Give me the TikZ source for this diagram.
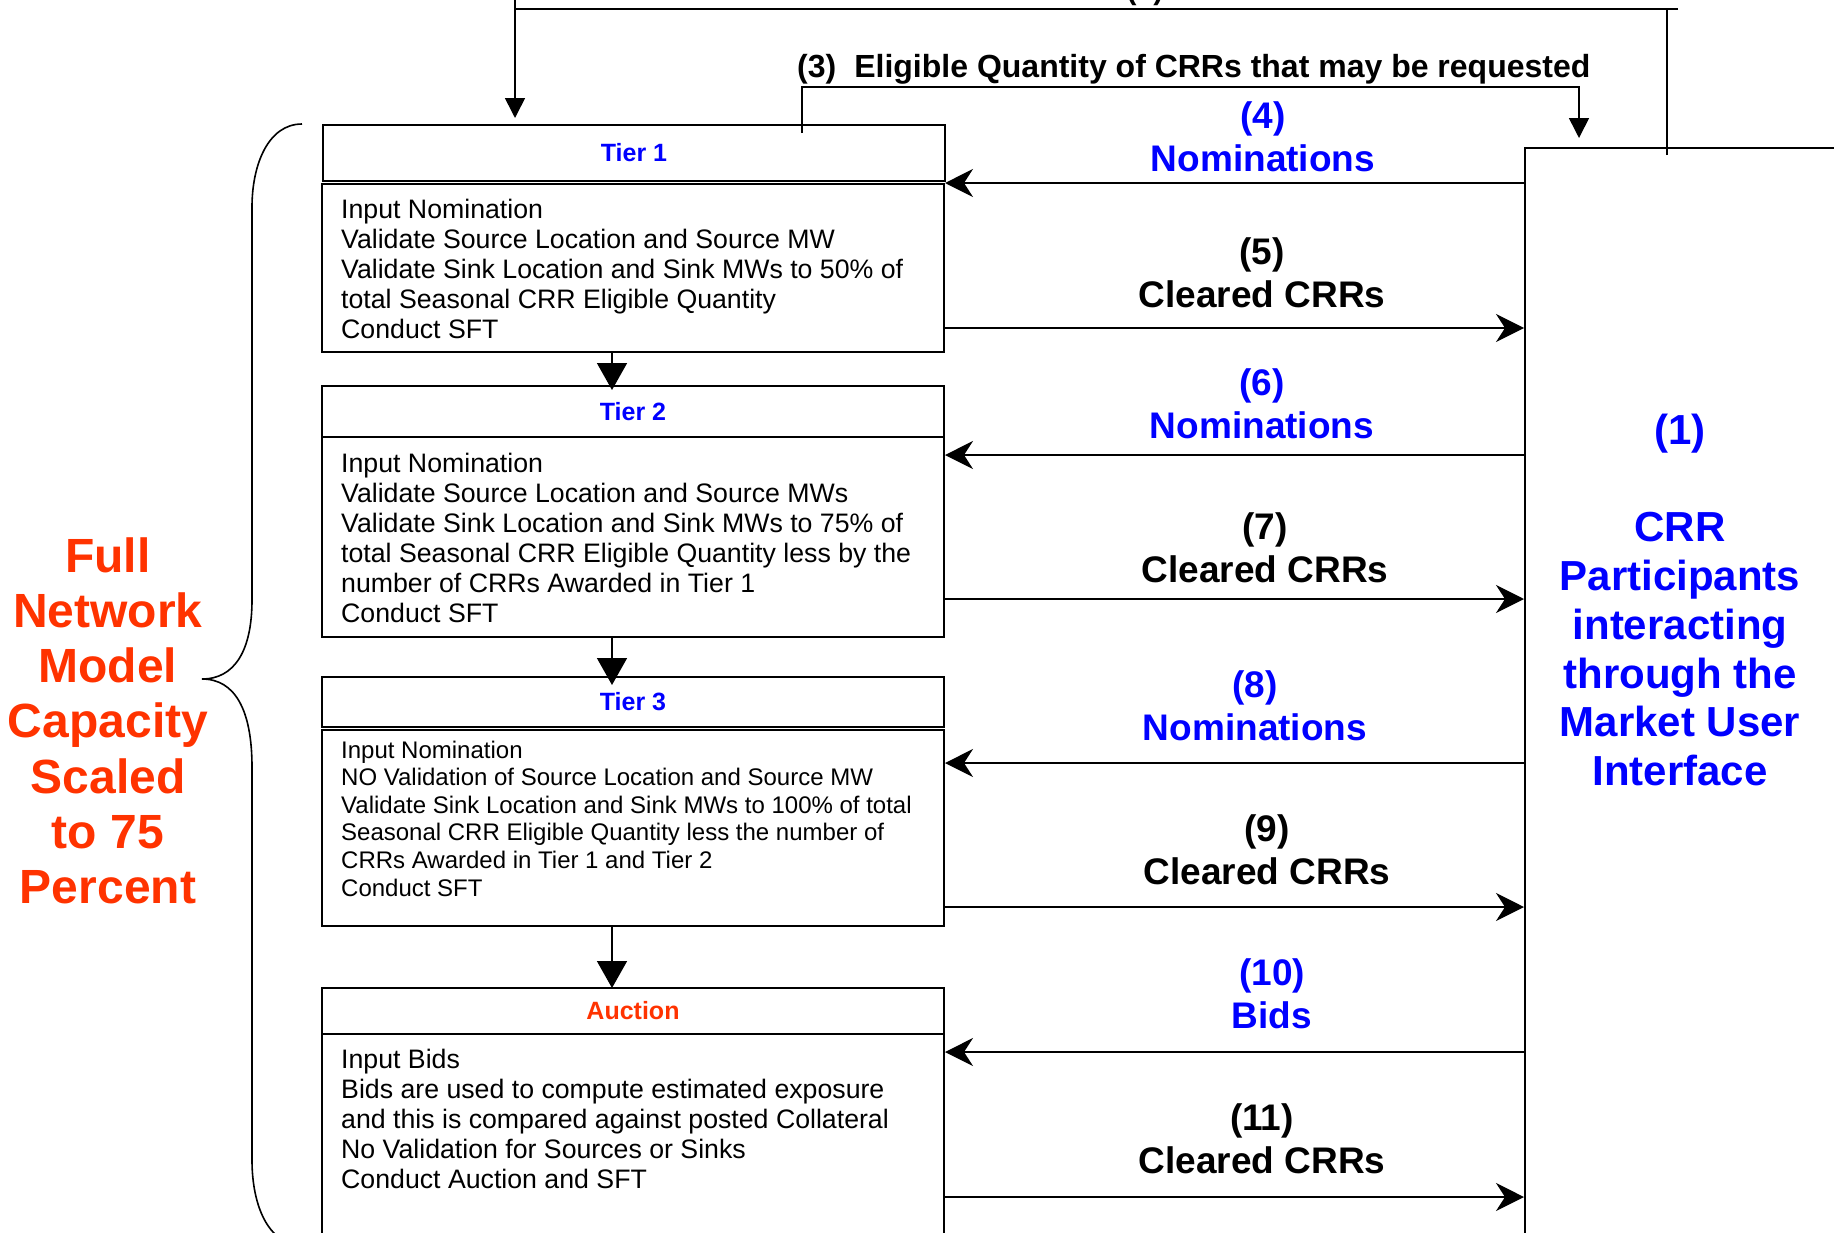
\documentclass[tikz,border=0pt]{standalone}
\usepackage{fontspec}
\setmainfont{Liberation Sans}
\usetikzlibrary{arrows.meta}
\definecolor{cblue}{RGB}{0,0,255}
\definecolor{corange}{RGB}{255,51,0}
\newcommand\leftlines[1]{\begin{tabular}[t]{@{}l@{}}#1\end{tabular}}
\newcommand\centerlines[1]{\begin{tabular}[t]{@{}c@{}}#1\end{tabular}}
\begin{document}
\begin{tikzpicture}[x=1pt,y=-1pt,
  box/.style={draw, line width=2pt, inner sep=0pt, anchor=north west, minimum width=622pt},
  hdrtext/.style={font=\fontsize{25}{30}\selectfont\bfseries},
  bodytext/.style={inner sep=0pt, anchor=base west, font=\fontsize{26.7}{30}\selectfont},
  smalltext/.style={inner sep=0pt, anchor=base west, font=\fontsize{24}{27.6}\selectfont},
  lbl/.style={inner sep=0pt, anchor=base, font=\fontsize{37}{43.5}\selectfont\bfseries},
  conn/.style={line width=1.6pt},
  larr/.style={conn, -{Stealth[length=28pt,width=28pt,inset=9pt]}},
  darr/.style={conn, -{Triangle[length=27pt,width=30pt]}},
  tarr/.style={conn, -{Triangle[length=20pt,width=20pt]}},
]
\useasboundingbox[fill=white] (0,0) rectangle (1834,1232);

% boxes
\node[box, minimum height=56pt, hdrtext, text=cblue] (t1h) at (322,124) {Tier 1};
\node[box, minimum height=168pt] (t1b) at (321,183) {};
\node[box, minimum height=51pt, hdrtext, text=cblue] (t2h) at (321,385) {Tier 2};
\node[box, minimum height=200pt] (t2b) at (321,436) {};
\node[box, minimum height=50pt, hdrtext, text=cblue] (t3h) at (321,676) {Tier 3};
\node[box, minimum height=196pt] (t3b) at (321,729) {};
\node[box, minimum height=46pt, hdrtext, text=corange] (auh) at (321,987) {Auction};
\node[box, minimum height=240pt] (aub) at (321,1033) {};
\node[draw, line width=2pt, inner sep=0pt, anchor=north west, minimum width=400pt, minimum height=1150pt] (mui) at (1524,147) {};

% box texts
\begin{scope}
\clip (321,183) rectangle (943,343);
\node[bodytext] (t1txt) at (341,218) {\leftlines{Input Nomination\\Validate Source Location and Source MW\\Validate Sink Location and Sink MWs to 50\% of\\total Seasonal CRR Eligible Quantity\\Conduct SFT}};
\end{scope}
\node[bodytext] (t2txt) at (341,472) {\leftlines{Input Nomination\\Validate Source Location and Source MWs\\Validate Sink Location and Sink MWs to 75\% of\\total Seasonal CRR Eligible Quantity less by the\\number of CRRs Awarded in Tier 1\\Conduct SFT}};
\node[smalltext] (t3txt) at (341,758) {\leftlines{Input Nomination\\NO Validation of Source Location and Source MW\\Validate Sink Location and Sink MWs to 100\% of total\\Seasonal CRR Eligible Quantity less the number of\\CRRs Awarded in Tier 1 and Tier 2\\Conduct SFT}};
\node[bodytext] (autxt) at (341,1068) {\leftlines{Input Bids\\Bids are used to compute estimated exposure\\and this is compared against posted Collateral\\No Validation for Sources or Sinks\\Conduct Auction and SFT}};

% side texts
\node[inner sep=0pt, anchor=base, text=corange, font=\fontsize{48}{55.3}\selectfont\bfseries] (lefttxt) at (108,572) {\centerlines{Full\\Network\\Model\\Capacity\\Scaled\\to 75\\Percent}};
\node[inner sep=0pt, anchor=base, text=cblue, font=\fontsize{42}{48.8}\selectfont\bfseries] (righttxt) at (1680,444) {\centerlines{(1)\\ \\CRR\\Participants\\interacting\\through the\\Market User\\Interface}};

% arrow labels
\node[lbl, text=cblue] (l4) at (1263,128) {\centerlines{(4)\\Nominations}};
\node[lbl] (l5) at (1262,264) {\centerlines{(5)\\Cleared CRRs}};
\node[lbl, text=cblue] (l6) at (1262,395) {\centerlines{(6)\\Nominations}};
\node[lbl] (l7) at (1265,539) {\centerlines{(7)\\Cleared CRRs}};
\node[lbl, text=cblue] (l8) at (1255,697) {\centerlines{(8)\\Nominations}};
\node[lbl] (l9) at (1267,841) {\centerlines{(9)\\Cleared CRRs}};
\node[lbl, text=cblue] (l10) at (1272,985) {\centerlines{(10)\\Bids}};
\node[lbl] (l11) at (1262,1130) {\centerlines{(11)\\Cleared CRRs}};

\node[inner sep=0pt, anchor=base west, font=\fontsize{32}{36}\selectfont\bfseries] (l3) at (797,77) {(3)\hspace{18pt}Eligible Quantity of CRRs that may be requested};
\node[inner sep=0pt, anchor=base, font=\fontsize{30}{34}\selectfont\bfseries] (l2) at (1145,-1) {(2)};

% horizontal connectors
\draw[larr] (mui.west |- 0,183) -- (t1b.east |- 0,183);
\draw[larr] (t1b.east |- 0,328) -- (mui.west |- 0,328);
\draw[larr] (mui.west |- 0,455) -- (t2b.east |- 0,455);
\draw[larr] (t2b.east |- 0,599) -- (mui.west |- 0,599);
\draw[larr] (mui.west |- 0,763) -- (t3b.east |- 0,763);
\draw[larr] (t3b.east |- 0,907) -- (mui.west |- 0,907);
\draw[larr] (mui.west |- 0,1052) -- (aub.east |- 0,1052);
\draw[larr] (aub.east |- 0,1197) -- (mui.west |- 0,1197);

% down arrows
\draw[darr, shorten >=-5pt] (t1b.south -| 612,0) -- (t2h.north -| 612,0);
\draw[darr, shorten >=-9pt] (t2b.south -| 612,0) -- (t3h.north -| 612,0);
\draw[darr, shorten >=-1pt] (t3b.south -| 612,0) -- (auh.north -| 612,0);

% top connectors
\coordinate (p2a) at (1667,155);
\coordinate (p2b) at (1678,9);
\coordinate (p2c) at (515,0);
\draw[conn] (p2a) -- (p2a |- p2b);
\draw[conn] (p2b) -- (p2c |- p2b);
\draw[tarr] (p2c) -- ([yshift=6pt]t1h.north -| p2c);

\coordinate (p3a) at (802,133);
\coordinate (p3tip) at (1579,138);
\draw[tarr] (p3a) |- (1579,87) -- (p3tip);

% brace
\draw[line width=1.6pt] (302,124) .. controls (268,124) and (252,165) .. (252,207) -- (252,600)
  .. controls (252,650) and (235,679) .. (202,679)
  .. controls (235,679) and (252,710) .. (252,767) -- (252,1160)
  .. controls (252,1205) and (268,1245) .. (302,1245);
\end{tikzpicture}
\end{document}
